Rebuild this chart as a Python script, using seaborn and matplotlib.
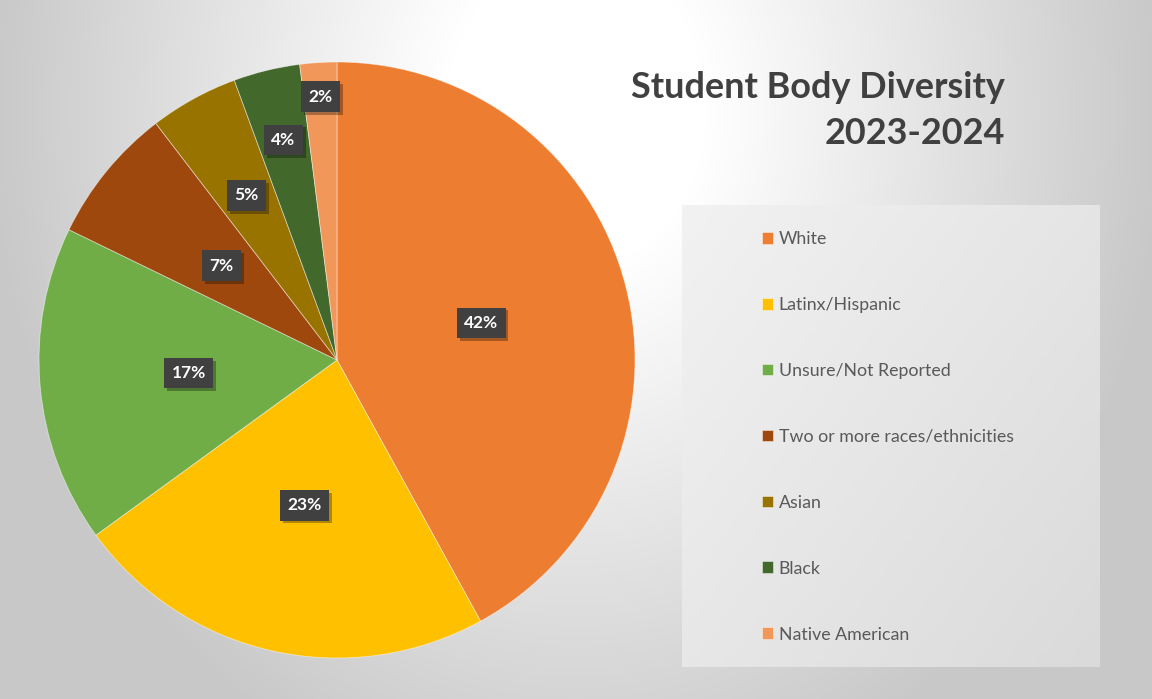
import numpy as np
import matplotlib
matplotlib.use("Agg")
import matplotlib.pyplot as plt
import matplotlib.patheffects as pe
import seaborn as sns

# ---- data ----
categories = ["White", "Latinx/Hispanic", "Unsure/Not Reported",
              "Two or more races/ethnicities", "Asian", "Black", "Native American"]
shares = [42.0, 23.0, 17.2, 7.4, 4.8, 3.6, 2.0]
colors = ["#ED7D31", "#FFC000", "#70AD47", "#9E480E", "#997300", "#43682B", "#F1975A"]
title_line1 = "Student Body Diversity"
title_line2 = "2023-2024"

# ---- style ----
sns.set_style("white")
plt.rcParams["font.family"] = ["Lato", "DejaVu Sans"]
palette = sns.color_palette(colors)
label_dist = [0.5, 0.5, 0.5, 0.5, 0.63, 0.76, 0.885]

W, H = 1152, 699
fig = plt.figure(figsize=(W / 100, H / 100), dpi=100)

# background radial gradient
bg = fig.add_axes([0, 0, 1, 1])
bg.set_axis_off()
yy, xx = np.mgrid[0:H, 0:W]
d = np.sqrt(((xx - 576) / 590.0) ** 2 + ((yy - 110) / 720.0) ** 2)
t = np.clip((d - 0.22) / (1.0 - 0.22), 0, 1)
v = 1.0 - (55 / 255.0) * t
bg.imshow(np.dstack([v, v, v]), extent=[0, W, H, 0], aspect="auto", zorder=0)
# legend panel gradient
ly, lx = np.mgrid[0:100, 0:100] / 99.0
lv = (242 - 24 * (0.55 * lx + 0.45 * ly)) / 255.0
bg.imshow(np.dstack([lv, lv, lv]), extent=[682, 1100, 667, 205], aspect="auto", zorder=1)
bg.set_xlim(0, W)
bg.set_ylim(H, 0)

# pie axes
cx, cy, r = 337, 360, 298
ax = fig.add_axes([(cx - r) / W, (H - cy - r) / H, 2 * r / W, 2 * r / H])
wedges, _texts = ax.pie(shares, colors=palette, startangle=90, counterclock=False,
                        radius=1.0,
                        wedgeprops=dict(edgecolor=(1, 1, 1, 0.5), linewidth=0.6))
ax.set_xlim(-1, 1)
ax.set_ylim(-1, 1)
ax.set_aspect("equal")
ax.set_axis_off()

# data labels
for w, val, rd in zip(wedges, shares, label_dist):
    ang = np.deg2rad((w.theta1 + w.theta2) / 2)
    txt = ax.text(rd * np.cos(ang), rd * np.sin(ang), f"{val:.0f}%",
                  ha="center", va="center", color="white", fontsize=12.5,
                  fontweight="bold",
                  bbox=dict(boxstyle="square,pad=0.42", fc="#404040", ec="none"))
    txt.get_bbox_patch().set_path_effects(
        [pe.SimplePatchShadow(offset=(2, -2), shadow_rgbFace="black", alpha=0.3),
         pe.Normal()])

# title
fig.text(1005 / W, 1 - 88 / H, title_line1, ha="right", va="center",
         fontsize=25.9, fontweight="bold", color="#404040")
fig.text(1005 / W, 1 - 134 / H, title_line2, ha="right", va="center",
         fontsize=25.9, fontweight="bold", color="#404040")

# legend
leg = fig.legend(wedges, categories, loc="upper left",
                 bbox_to_anchor=(753 / W, 1 - 222 / H), bbox_transform=fig.transFigure,
                 frameon=False, fontsize=12.8, labelspacing=2.81,
                 handlelength=0.65, handleheight=0.65, handletextpad=0.3,
                 borderpad=0, labelcolor="#595959")

fig.savefig("out.png", dpi=100)
